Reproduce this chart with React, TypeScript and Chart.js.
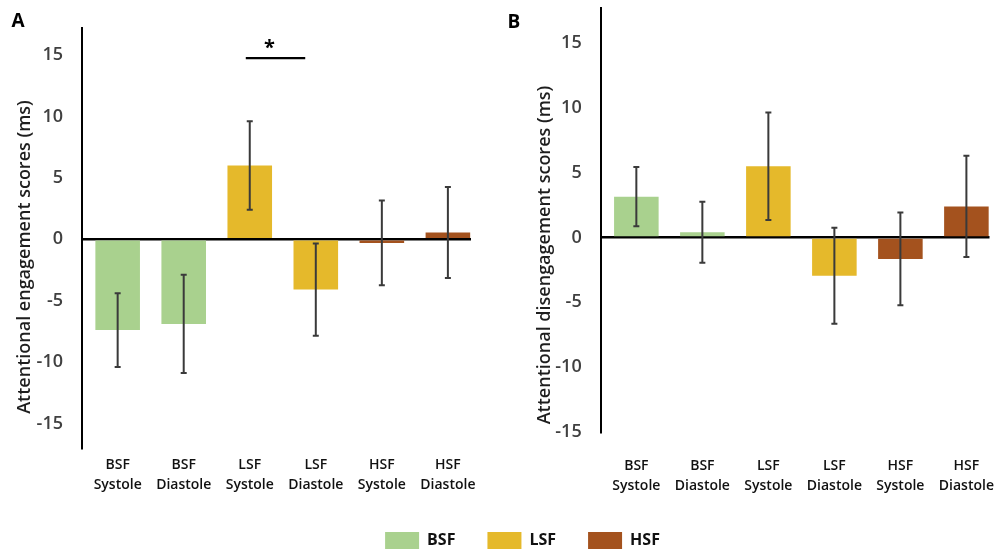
import React, { useEffect, useRef } from "react";
import { Chart, registerables } from "chart.js";

Chart.register(...registerables);

const FONT = "'Open Sans', 'DejaVu Sans', sans-serif";

// ---- data ----
const categoryGroups = ["BSF", "BSF", "LSF", "LSF", "HSF", "HSF"];
const categoryPhases = ["Systole", "Diastole", "Systole", "Diastole", "Systole", "Diastole"];
const legendGroups = ["BSF", "LSF", "HSF"];
const groupColors = ["#A9D18E", "#E5B92B", "#A4521E"];
const yTickValues = [-15, -10, -5, 0, 5, 10, 15];

const engagementMeans = [-7.4, -6.9, 6.0, -4.1, -0.3, 0.55];
const engagementErrors = [3.0, 4.0, 3.6, 3.75, 3.45, 3.7];

const disengagementMeans = [3.15, 0.4, 5.5, -2.95, -1.65, 2.4];
const disengagementErrors = [2.28, 2.35, 4.15, 3.7, 3.58, 3.9];

// significance bracket for panel A (category-index units, value units)
const sigFrom = 1.94;
const sigTo = 2.84;
const sigValue = 14.75;
const sigStarX = 2.3;
const sigLabel = "*";

function colorFor(i: number) {
  return groupColors[legendGroups.indexOf(categoryGroups[i])];
}

type PanelProps = {
  means: number[];
  errors: number[];
  yMin: number;
  yMax: number;
  title: string;
  letter: string;
  letterX: number;
  letterY: number;
  titleX: number;
  titleY: number;
  left: number;
  width: number;
  padTop: number;
  padRight: number;
  yAxisWidth: number;
  xAxisHeight: number;
  xTickPad: number;
  sig: boolean;
};

function makeOverlay(p: PanelProps) {
  return {
    id: "overlay",
    afterDatasetsDraw(chart: any) {
      const { ctx } = chart;
      const x = chart.scales.x;
      const y = chart.scales.y;
      ctx.save();
      ctx.strokeStyle = "#3a3a3a";
      ctx.lineWidth = 2;
      p.means.forEach((m, i) => {
        const px = x.getPixelForValue(i);
        const top = y.getPixelForValue(m + p.errors[i]);
        const bot = y.getPixelForValue(m - p.errors[i]);
        ctx.beginPath();
        ctx.moveTo(px, top);
        ctx.lineTo(px, bot);
        ctx.moveTo(px - 3, top);
        ctx.lineTo(px + 3, top);
        ctx.moveTo(px - 3, bot);
        ctx.lineTo(px + 3, bot);
        ctx.stroke();
      });
      if (p.sig) {
        const yy = y.getPixelForValue(sigValue);
        ctx.strokeStyle = "#000";
        ctx.lineWidth = 2.2;
        ctx.beginPath();
        ctx.moveTo(x.getPixelForValue(sigFrom), yy);
        ctx.lineTo(x.getPixelForValue(sigTo), yy);
        ctx.stroke();
        ctx.fillStyle = "#000";
        ctx.font = `700 20px ${FONT}`;
        ctx.textAlign = "center";
        ctx.textBaseline = "alphabetic";
        ctx.fillText(sigLabel, x.getPixelForValue(sigStarX), yy - 4);
      }
      ctx.restore();
    },
    afterDraw(chart: any) {
      const { ctx } = chart;
      ctx.save();
      ctx.fillStyle = "#000";
      ctx.textAlign = "center";
      ctx.textBaseline = "middle";
      ctx.font = `700 19px ${FONT}`;
      ctx.fillText(p.letter, p.letterX, p.letterY);
      ctx.translate(p.titleX, p.titleY);
      ctx.rotate(-Math.PI / 2);
      ctx.fillStyle = "#1e1e1e";
      ctx.font = `600 18px ${FONT}`;
      ctx.fillText(p.title, 0, 0);
      ctx.restore();
    },
  };
}

function Panel(p: PanelProps) {
  const ref = useRef<HTMLCanvasElement>(null);
  useEffect(() => {
    const chart = new Chart(ref.current as HTMLCanvasElement, {
      type: "bar",
      data: {
        datasets: [
          {
            data: p.means.map((v, i) => ({ x: i, y: v })),
            backgroundColor: p.means.map((_, i) => colorFor(i)),
            borderWidth: 0,
            barPercentage: 0.675,
            categoryPercentage: 1,
          } as any,
        ],
      },
      options: {
        animation: false,
        responsive: true,
        maintainAspectRatio: false,
        layout: { autoPadding: false, padding: { left: 0, top: p.padTop, right: p.padRight, bottom: 0 } },
        plugins: { legend: { display: false }, tooltip: { enabled: false } },
        scales: {
          x: {
            type: "linear",
            min: -0.54,
            max: 5.35,
            bounds: "data",
            offset: false,
            grid: { display: false, drawTicks: false },
            border: { display: false },
            afterBuildTicks: (s: any) => {
              s.ticks = categoryGroups.map((_, i) => ({ value: i }));
            },
            afterFit: (s: any) => {
              s.height = p.xAxisHeight;
              s.paddingLeft = 0;
              s.paddingRight = 0;
              s.paddingTop = 0;
              s.paddingBottom = 0;
            },
            ticks: {
              autoSkip: false,
              maxRotation: 0,
              minRotation: 0,
              padding: p.xTickPad,
              color: "#111",
              font: { family: FONT, size: 14, weight: "600", lineHeight: 1.43 },
              callback: (v: any) => {
                const i = Math.round(Number(v));
                return [categoryGroups[i], categoryPhases[i]];
              },
            },
          },
          y: {
            min: p.yMin,
            max: p.yMax,
            bounds: "data",
            z: 1,
            afterBuildTicks: (s: any) => {
              s.ticks = yTickValues.map((v) => ({ value: v }));
            },
            afterFit: (s: any) => {
              s.width = p.yAxisWidth;
              s.paddingTop = 0;
              s.paddingBottom = 0;
              s.paddingLeft = 0;
              s.paddingRight = 0;
            },
            border: { display: true, color: "#000", width: 2 },
            grid: {
              drawTicks: false,
              color: (c: any) => (c.tick && c.tick.value === 0 ? "#000" : "rgba(0,0,0,0)"),
              lineWidth: 2.5,
            },
            ticks: {
              padding: 19,
              color: "#404040",
              font: { family: FONT, size: 18, weight: "600" },
            },
          },
        } as any,
      },
      plugins: [makeOverlay(p)],
    });
    return () => chart.destroy();
  }, []);
  return (
    <div style={{ position: "absolute", left: p.left, top: 0, width: p.width, height: 510 }}>
      <canvas ref={ref} />
    </div>
  );
}

function Legend() {
  const ref = useRef<HTMLCanvasElement>(null);
  useEffect(() => {
    const chart = new Chart(ref.current as HTMLCanvasElement, {
      type: "bar",
      data: {
        labels: [],
        datasets: legendGroups.map((g, i) => ({
          label: g,
          data: [],
          backgroundColor: groupColors[i],
          borderWidth: 0,
        })),
      },
      options: {
        animation: false,
        responsive: true,
        maintainAspectRatio: false,
        layout: { padding: 0 },
        scales: { x: { display: false }, y: { display: false } },
        plugins: {
          tooltip: { enabled: false },
          legend: {
            display: true,
            position: "top",
            labels: {
              boxWidth: 34,
              boxHeight: 17,
              padding: 32,
              color: "#111",
              font: { family: FONT, size: 16, weight: "700" },
            },
          },
        },
      },
    });
    return () => chart.destroy();
  }, []);
  return (
    <div style={{ position: "absolute", left: 50, top: 500, width: 945, height: 200 }}>
      <canvas ref={ref} />
    </div>
  );
}

export default function App() {
  return (
    <div style={{ position: "absolute", left: 0, top: 0, width: 995, height: 549, overflow: "hidden", background: "#fff" }}>
      <Panel
        means={engagementMeans}
        errors={engagementErrors}
        yMin={-17}
        yMax={17.2}
        title="Attentional engagement scores (ms)"
        letter="A"
        letterX={18}
        letterY={22}
        titleX={25}
        titleY={257}
        left={0}
        width={500}
        padTop={28}
        padRight={29}
        yAxisWidth={82}
        xAxisHeight={62}
        xTickPad={7}
        sig={true}
      />
      <Panel
        means={disengagementMeans}
        errors={disengagementErrors}
        yMin={-15}
        yMax={17.7}
        title="Attentional disengagement scores (ms)"
        letter="B"
        letterX={14}
        letterY={23}
        titleX={45}
        titleY={255}
        left={500}
        width={495}
        padTop={8}
        padRight={5.5}
        yAxisWidth={100.7}
        xAxisHeight={78}
        xTickPad={24}
        sig={false}
      />
      <Legend />
    </div>
  );
}
